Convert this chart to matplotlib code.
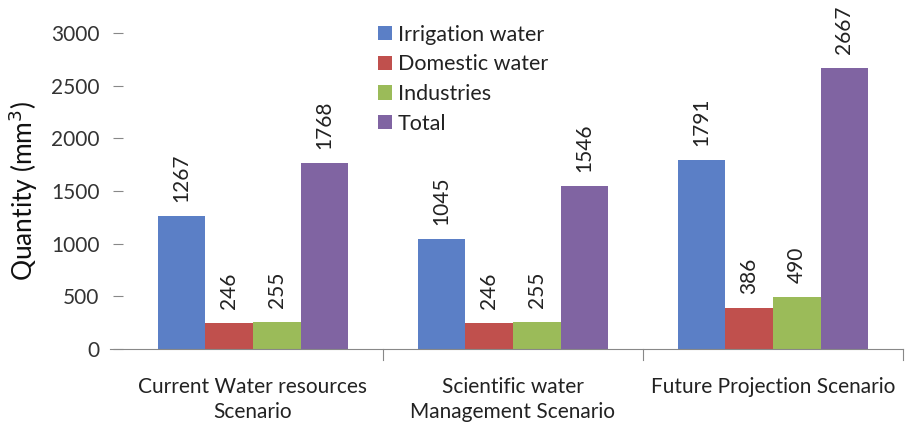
import matplotlib
matplotlib.use("Agg")
import matplotlib.pyplot as plt
import numpy as np

categories = ["Current Water resources\nScenario",
              "Scientific water\nManagement Scenario",
              "Future Projection Scenario"]
series_names = ["Irrigation water", "Domestic water", "Industries", "Total"]
irrigation = [1267, 1045, 1791]
domestic = [246, 246, 386]
industries = [255, 255, 490]
total = [1768, 1546, 2667]
yticks = [0, 500, 1000, 1500, 2000, 2500, 3000]

series = [irrigation, domestic, industries, total]
colors = ["#5B7FC6", "#C0504D", "#9BBB59", "#8064A2"]

plt.rcParams["font.family"] = ["Lato", "DejaVu Sans"]

fig = plt.figure(figsize=(9.06, 4.25), dpi=100)
ax = fig.add_axes([123 / 906, 1 - 349 / 425, 780 / 906, (349 - 33) / 425])

x = np.arange(len(categories))
n = len(series)
bar_w = 0.183
offsets = (np.arange(n) - (n - 1) / 2) * bar_w

for vals, off, col, name in zip(series, offsets, colors, series_names):
    bars = ax.bar(x + off, vals, width=bar_w, color=col, label=name, linewidth=0)
    for b, v in zip(bars, vals):
        ax.annotate(str(v), (b.get_x() + b.get_width() / 2, v),
                    xytext=(0, 10), textcoords="offset points",
                    rotation=90, ha="center", va="bottom",
                    fontsize=15, color="#222222")

ax.set_xlim(-0.5, len(categories) - 0.5)
ax.set_ylim(0, 3000)
ax.set_yticks(yticks)
ax.set_yticklabels([str(t) for t in yticks], fontsize=15, color="#333333")
ax.tick_params(axis="y", length=7, width=0.8, color="#888888", pad=10, direction="out")

# category labels centred, separators between groups
ax.set_xticks(x)
ax.set_xticklabels(categories, fontsize=15, color="#222222", linespacing=1.35)
ax.tick_params(axis="x", length=0, pad=20)
for sep in np.arange(0.5, len(categories), 1.0):
    ax.plot([sep, sep], [0, -0.035], transform=ax.get_xaxis_transform(),
            color="#888888", lw=0.8, clip_on=False)

for s in ["top", "right", "left"]:
    ax.spines[s].set_visible(False)
ax.spines["bottom"].set_color("#888888")
ax.spines["bottom"].set_linewidth(0.8)
ax.spines["bottom"].set_bounds(-0.55, len(categories) - 0.5)

ax.set_ylabel("Quantity (mm$^3$)", fontsize=19, color="#111111", labelpad=8)

leg = ax.legend(loc="upper left", bbox_to_anchor=(0.307, 1.074), frameon=False,
                fontsize=15.5, handlelength=0.65, handleheight=0.65,
                handletextpad=0.3, labelspacing=0.45, borderpad=0.2)
for t in leg.get_texts():
    t.set_color("#222222")

fig.savefig("out.png", dpi=100)
